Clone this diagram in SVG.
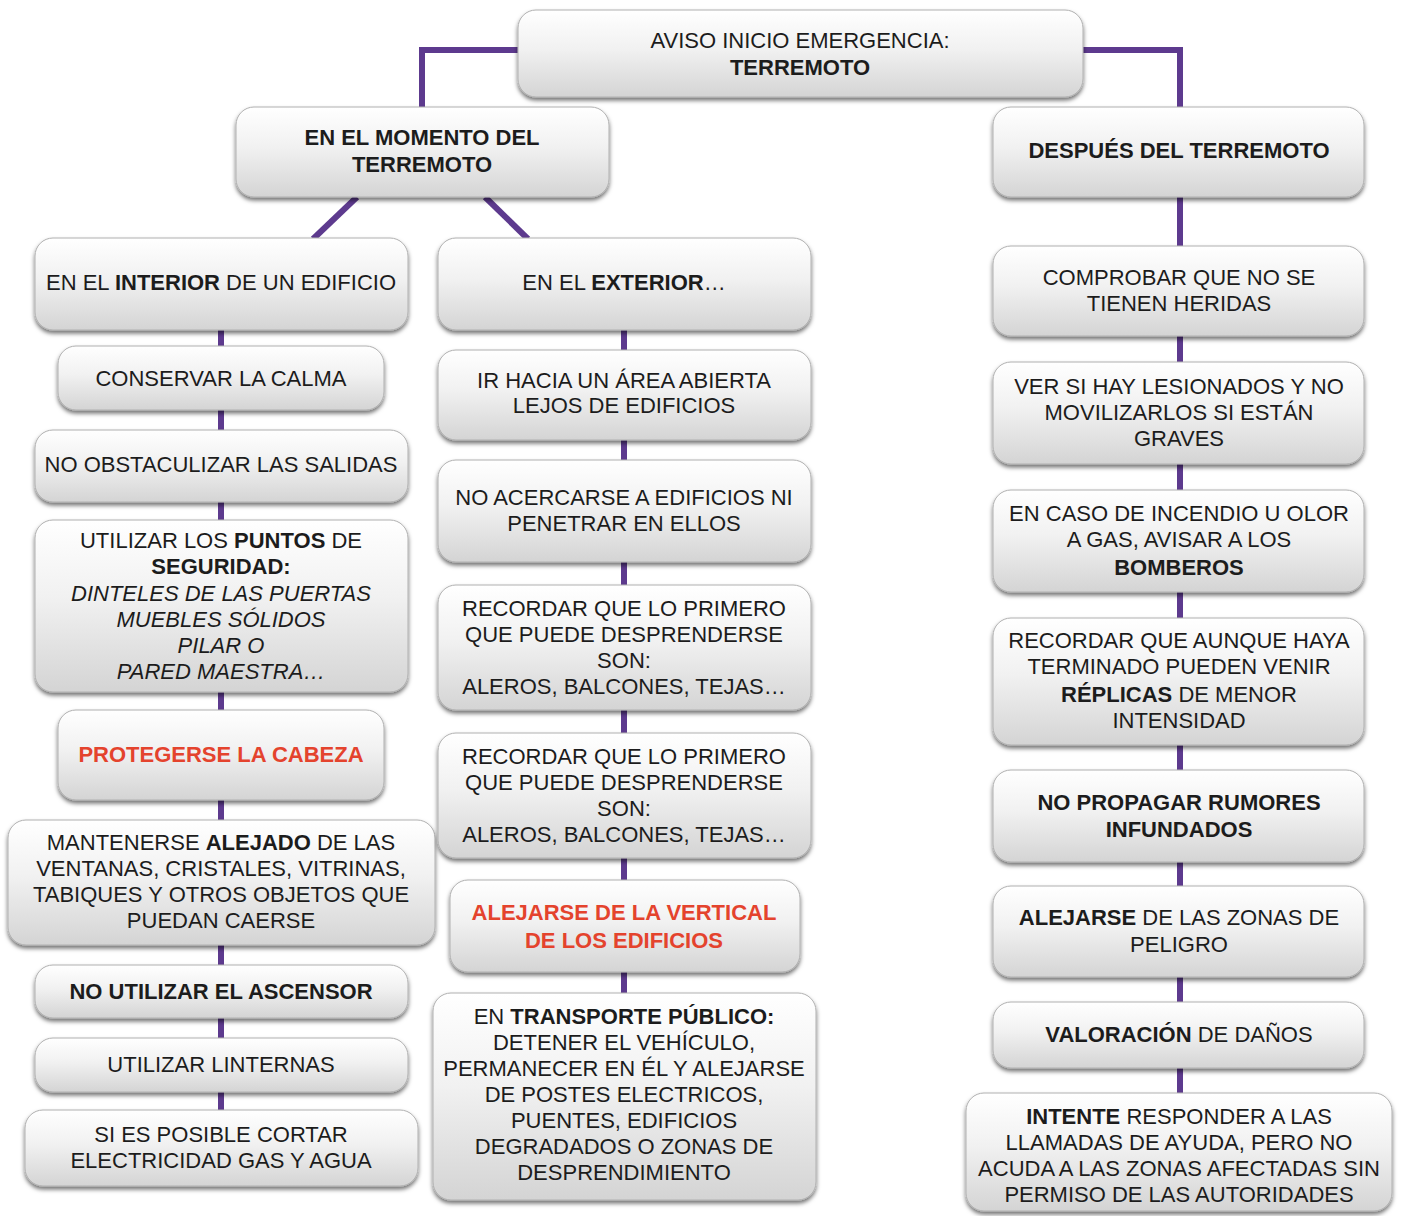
<svg xmlns="http://www.w3.org/2000/svg" width="1401" height="1216" viewBox="0 0 1401 1216">
<defs>
<linearGradient id="g" x1="0" y1="0" x2="0" y2="1">
<stop offset="0" stop-color="#ffffff"/>
<stop offset="0.45" stop-color="#f1f1f1"/>
<stop offset="1" stop-color="#d4d4d4"/>
</linearGradient>
<filter id="sh" x="-10%" y="-20%" width="120%" height="150%">
<feDropShadow dx="0" dy="3" stdDeviation="2.2" flood-color="#000" flood-opacity="0.55"/>
</filter>
</defs>
<style>
.b{fill:url(#g);stroke:#b0b0b0;stroke-width:1;filter:url(#sh)}
text{font-family:"Liberation Sans",Arial,Helvetica,sans-serif;font-size:22px;fill:#1c1c1c;text-anchor:middle}
.bd{font-weight:bold}
.it{font-style:italic}
.red{fill:#e4432d;font-weight:bold}
.c{stroke:#5d3a8e;stroke-width:6;fill:none}
</style>
<g id="connectors">
<path class="c" d="M520 50 H422 V108"/>
<path class="c" d="M1081 50 H1180 V108"/>
<path class="c" d="M357 197 L313 239"/>
<path class="c" d="M485 197 L528 239"/>
<path class="c" d="M221 330 V346 M221 410 V430 M221 502 V520 M221 692 V710 M221 800 V820 M221 945 V965 M221 1018 V1038 M221 1092 V1110"/>
<path class="c" d="M624 330 V350 M624 440 V460 M624 562 V585 M624 710 V733 M624 858 V880 M624 972 V993"/>
<path class="c" d="M1180 197 V246 M1180 336 V362 M1180 464 V490 M1180 592 V618 M1180 745 V770 M1180 862 V886 M1180 977 V1002 M1180 1068 V1093"/>
</g>
<g id="n-top"><rect class="b" x="518" y="10" width="565" height="87" rx="18"/><text x="800" y="48">AVISO INICIO EMERGENCIA:</text><text x="800" y="75" class="bd">TERREMOTO</text></g>
<g id="n-momento"><rect class="b" x="236" y="107" width="373" height="90" rx="18"/><text x="422" y="145" class="bd">EN EL MOMENTO DEL</text><text x="422" y="172" class="bd">TERREMOTO</text></g>
<g id="n-despues"><rect class="b" x="993" y="107" width="371" height="90" rx="18"/><text x="1179" y="158" class="bd">DESPUÉS DEL TERREMOTO</text></g>

<g id="n-interior"><rect class="b" x="35" y="238" width="373" height="92" rx="18"/><text x="221" y="290">EN EL <tspan class="bd">INTERIOR</tspan> DE UN EDIFICIO</text></g>
<g id="n-calma"><rect class="b" x="58" y="346" width="326" height="64" rx="18"/><text x="221" y="386">CONSERVAR LA CALMA</text></g>
<g id="n-salidas"><rect class="b" x="35" y="430" width="373" height="72" rx="18"/><text x="221" y="472">NO OBSTACULIZAR LAS SALIDAS</text></g>
<g id="n-puntos"><rect class="b" x="35" y="520" width="373" height="172" rx="18"/>
<text x="221" y="548">UTILIZAR LOS <tspan class="bd">PUNTOS</tspan> DE</text>
<text x="221" y="574" class="bd">SEGURIDAD:</text>
<text x="221" y="601" class="it">DINTELES DE LAS PUERTAS</text>
<text x="221" y="627" class="it">MUEBLES SÓLIDOS</text>
<text x="221" y="653" class="it">PILAR O</text>
<text x="221" y="679" class="it">PARED MAESTRA…</text></g>
<g id="n-cabeza"><rect class="b" x="58" y="710" width="326" height="90" rx="18"/><text x="221" y="762" class="red">PROTEGERSE LA CABEZA</text></g>
<g id="n-alejado"><rect class="b" x="8" y="820" width="427" height="125" rx="18"/>
<text x="221" y="850">MANTENERSE <tspan class="bd">ALEJADO</tspan> DE LAS</text>
<text x="221" y="876">VENTANAS, CRISTALES, VITRINAS,</text>
<text x="221" y="902">TABIQUES Y OTROS OBJETOS QUE</text>
<text x="221" y="928">PUEDAN CAERSE</text></g>
<g id="n-ascensor"><rect class="b" x="35" y="965" width="373" height="53" rx="18"/><text x="221" y="999" class="bd">NO UTILIZAR EL ASCENSOR</text></g>
<g id="n-linternas"><rect class="b" x="35" y="1038" width="373" height="54" rx="18"/><text x="221" y="1072">UTILIZAR LINTERNAS</text></g>
<g id="n-cortar"><rect class="b" x="25" y="1110" width="393" height="76" rx="18"/><text x="221" y="1142">SI ES POSIBLE CORTAR</text><text x="221" y="1168">ELECTRICIDAD GAS Y AGUA</text></g>

<g id="n-exterior"><rect class="b" x="438" y="238" width="373" height="92" rx="18"/><text x="624" y="290">EN EL <tspan class="bd">EXTERIOR</tspan>…</text></g>
<g id="n-area"><rect class="b" x="438" y="350" width="373" height="90" rx="18"/><text x="624" y="388">IR HACIA UN ÁREA ABIERTA</text><text x="624" y="413">LEJOS DE EDIFICIOS</text></g>
<g id="n-acercarse"><rect class="b" x="438" y="460" width="373" height="102" rx="18"/><text x="624" y="505">NO ACERCARSE A EDIFICIOS NI</text><text x="624" y="531">PENETRAR EN ELLOS</text></g>
<g id="n-recordar1"><rect class="b" x="438" y="585" width="373" height="125" rx="18"/>
<text x="624" y="616">RECORDAR QUE LO PRIMERO</text>
<text x="624" y="642">QUE PUEDE DESPRENDERSE</text>
<text x="624" y="668">SON:</text>
<text x="624" y="694">ALEROS, BALCONES, TEJAS…</text></g>
<g id="n-recordar2"><rect class="b" x="438" y="733" width="373" height="125" rx="18"/>
<text x="624" y="764">RECORDAR QUE LO PRIMERO</text>
<text x="624" y="790">QUE PUEDE DESPRENDERSE</text>
<text x="624" y="816">SON:</text>
<text x="624" y="842">ALEROS, BALCONES, TEJAS…</text></g>
<g id="n-vertical"><rect class="b" x="450" y="880" width="350" height="92" rx="18"/><text x="624" y="920" class="red">ALEJARSE DE LA VERTICAL</text><text x="624" y="948" class="red">DE LOS EDIFICIOS</text></g>
<g id="n-transporte"><rect class="b" x="433" y="993" width="383" height="207" rx="18"/>
<text x="624" y="1024">EN <tspan class="bd">TRANSPORTE PÚBLICO:</tspan></text>
<text x="624" y="1050">DETENER EL VEHÍCULO,</text>
<text x="624" y="1076">PERMANECER EN ÉL Y ALEJARSE</text>
<text x="624" y="1102">DE POSTES ELECTRICOS,</text>
<text x="624" y="1128">PUENTES, EDIFICIOS</text>
<text x="624" y="1154">DEGRADADOS O ZONAS DE</text>
<text x="624" y="1180">DESPRENDIMIENTO</text></g>

<g id="n-heridas"><rect class="b" x="993" y="246" width="371" height="90" rx="18"/><text x="1179" y="285">COMPROBAR QUE NO SE</text><text x="1179" y="311">TIENEN HERIDAS</text></g>
<g id="n-lesionados"><rect class="b" x="993" y="362" width="371" height="102" rx="18"/><text x="1179" y="394">VER SI HAY LESIONADOS Y NO</text><text x="1179" y="420">MOVILIZARLOS SI ESTÁN</text><text x="1179" y="446">GRAVES</text></g>
<g id="n-incendio"><rect class="b" x="993" y="490" width="371" height="102" rx="18"/><text x="1179" y="521">EN CASO DE INCENDIO U OLOR</text><text x="1179" y="547">A GAS, AVISAR A LOS</text><text x="1179" y="575" class="bd">BOMBEROS</text></g>
<g id="n-replicas"><rect class="b" x="993" y="618" width="371" height="127" rx="18"/><text x="1179" y="648">RECORDAR QUE AUNQUE HAYA</text><text x="1179" y="674">TERMINADO PUEDEN VENIR</text><text x="1179" y="702"><tspan class="bd">RÉPLICAS</tspan> DE MENOR</text><text x="1179" y="728">INTENSIDAD</text></g>
<g id="n-rumores"><rect class="b" x="993" y="770" width="371" height="92" rx="18"/><text x="1179" y="810" class="bd">NO PROPAGAR RUMORES</text><text x="1179" y="837" class="bd">INFUNDADOS</text></g>
<g id="n-zonas"><rect class="b" x="993" y="886" width="371" height="91" rx="18"/><text x="1179" y="925"><tspan class="bd">ALEJARSE</tspan> DE LAS ZONAS DE</text><text x="1179" y="952">PELIGRO</text></g>
<g id="n-danos"><rect class="b" x="993" y="1002" width="371" height="66" rx="18"/><text x="1179" y="1042"><tspan class="bd">VALORACIÓN</tspan> DE DAÑOS</text></g>
<g id="n-intente"><rect class="b" x="966" y="1093" width="426" height="118" rx="18"/><text x="1179" y="1124"><tspan class="bd">INTENTE</tspan> RESPONDER A LAS</text><text x="1179" y="1150">LLAMADAS DE AYUDA, PERO NO</text><text x="1179" y="1176">ACUDA A LAS ZONAS AFECTADAS SIN</text><text x="1179" y="1202">PERMISO DE LAS AUTORIDADES</text></g>
</svg>
